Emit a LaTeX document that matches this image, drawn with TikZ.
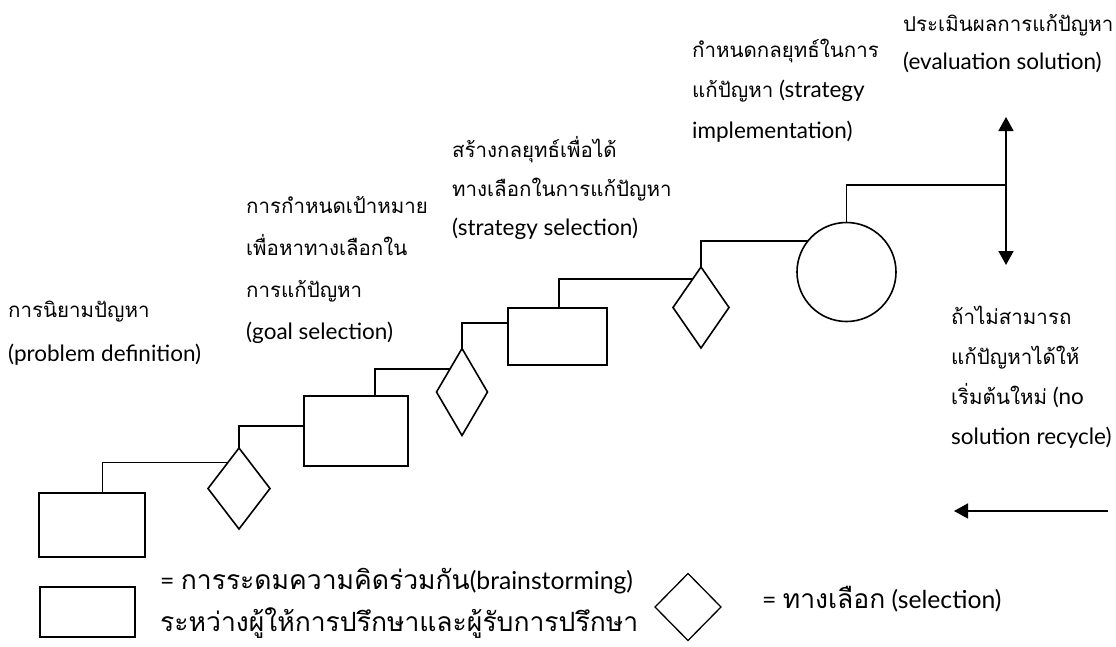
\documentclass[tikz,border=0pt]{standalone}
\usepackage{fontspec}
\setmainfont{Lato}
\newfontfamily\thf[Script=Thai,Scale=0.911]{Loma}
\newfontfamily\thfl[Script=Thai,Scale=1.073]{Loma}
\usetikzlibrary{shapes.geometric,arrows.meta,calc}
\begin{document}
\begin{tikzpicture}[x=1pt,y=-1pt,
  lw/.style={line width=1.6pt},
  box/.style={draw,lw,rectangle,inner sep=0pt,outer sep=0pt},
  choice/.style={draw,lw,diamond,inner sep=0pt,outer sep=0pt},
  lbl/.style={anchor=base west,inner sep=0pt,font=\fontsize{22.5}{26}\selectfont},
  leg/.style={anchor=base west,inner sep=0pt,font=\fontsize{24.7}{28}\selectfont},
  conn/.style={lw},
  tip/.style={-{Triangle[length=14pt,width=15pt]}}
]
\useasboundingbox (0,0) rectangle (1116,646);

% shapes
\node[box,minimum width=106pt,minimum height=64pt] (r1) at (92,525) {};
\node[choice,minimum width=62pt,minimum height=81pt] (d1) at (239,488.5) {};
\node[box,minimum width=104pt,minimum height=70pt] (r2) at (356,431) {};
\node[choice,minimum width=51pt,minimum height=87pt] (d2) at (462,392) {};
\node[box,minimum width=99pt,minimum height=57pt] (r3) at (557.5,336.5) {};
\node[choice,minimum width=56pt,minimum height=81pt] (d3) at (701,307.5) {};
\node[draw,lw,circle,minimum size=99pt,inner sep=0pt,outer sep=0pt] (c) at (846.5,272) {};

% arrow end points
\coordinate (at) at (1006,117);
\coordinate (ab) at (1006,265);
\coordinate (aj) at (1006,185);
\coordinate (rs) at (1108,511);
\coordinate (re) at (954,511);

% connectors
\draw[conn] ($(r1.north west)!0.6!(r1.north east)$) |- (d1.113);
\draw[conn] (d1.north) |- ($(r2.north west)!0.43!(r2.south west)$);
\draw[conn] ($(r2.north west)!0.68!(r2.north east)$) |- (d2.118);
\draw[conn] (d2.north) |- ($(r3.north west)!0.26!(r3.south west)$);
\draw[conn] ($(r3.north west)!0.515!(r3.north east)$) |- (d3.106);
\draw[conn] (d3.north) |- (c.141);
\draw[conn] (c.north) |- (aj);
\draw[conn,{Triangle[length=14pt,width=15pt]}-{Triangle[length=14pt,width=15pt]}] (at) -- (ab);
\draw[conn,tip] (rs) -- (re);

% labels
\node[lbl] (p1) at (8,317) {\thf การนิยามปัญหา};
\node[lbl] (p2) at (8,361) {(problem definition)};

\node[lbl] (g1) at (246,213) {\thf การกำหนดเป้าหมาย};
\node[lbl] (g2) at (246,255) {\thf เพื่อหาทางเลือกใน};
\node[lbl] (g3) at (246,297) {\thf การแก้ปัญหา};
\node[lbl] (g4) at (246,339) {(goal selection)};

\node[lbl] (s1) at (452,157) {\thf สร้างกลยุทธ์เพื่อได้};
\node[lbl] (s2) at (452,196) {\thf ทางเลือกในการแก้ปัญหา};
\node[lbl] (s3) at (452,235) {(strategy selection)};

\node[lbl] (i1) at (692,57) {\thf กำหนดกลยุทธ์ในการ};
\node[lbl] (i2) at (692,97) {{\thf แก้ปัญหา} (strategy};
\node[lbl] (i3) at (692,138) {implementation)};

\node[lbl] (e1) at (903,31) {\thf ประเมินผลการแก้ปัญหา};
\node[lbl] (e2) at (903,69) {(evaluation solution)};

\node[lbl] (n1) at (951,324) {\thf ถ้าไม่สามารถ};
\node[lbl] (n2) at (951,364) {\thf แก้ปัญหาได้ให้};
\node[lbl] (n3) at (951,404) {{\thf เริ่มต้นใหม่} (no};
\node[lbl] (n4) at (951,444) {solution recycle)};

% legend
\node[box,minimum width=95pt,minimum height=50pt] (lr) at (87.5,612) {};
\node[leg] (lt1) at (160,589) {= {\thfl การระดมความคิดร่วมกัน}(brainstorming)};
\node[leg] (lt2) at (160,631) {\thfl ระหว่างผู้ให้การปรึกษาและผู้รับการปรึกษา};
\node[choice,line width=1.3pt,minimum width=66pt,minimum height=67pt] (ld) at (688,607) {};
\node[leg] (lt3) at (762,608) {= {\thfl ทางเลือก} (selection)};
\end{tikzpicture}
\end{document}
